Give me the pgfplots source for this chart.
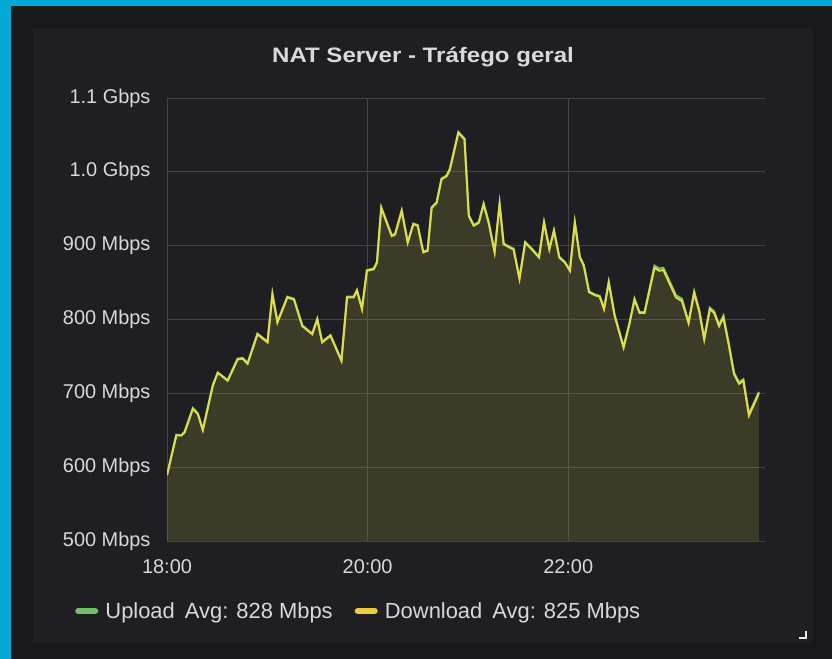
\documentclass[border=0pt]{standalone}
\usepackage{fontspec}
\setmainfont{Liberation Sans}
\newfontfamily\titlefont[FakeStretch=1.15]{Liberation Sans}
\usepackage{pgfplots}
\pgfplotsset{compat=1.18}
\definecolor{cyanbg}{RGB}{0,170,212}
\definecolor{outerbg}{RGB}{24,24,27}
\definecolor{panelbg}{RGB}{31,31,35}
\definecolor{gridgrey}{RGB}{66,66,71}
\definecolor{txtgrey}{RGB}{216,217,218}
\definecolor{dlyellow}{RGB}{226,220,70}
\definecolor{legyellow}{RGB}{234,204,64}
\definecolor{ulgreen}{RGB}{115,191,105}
\begin{document}
\begin{tikzpicture}[x=1bp,y=1bp]
\fill[cyanbg] (0,0) rectangle (832,659);
\fill[outerbg] (11,0) rectangle (832,653);
\fill[panelbg] (33,16) rectangle (813,631);
\draw[txtgrey!60, line width=1.2bp] (799,21) -- (806,21) -- (806,28);
\node[font=\titlefont\bfseries\fontsize{21}{25}\selectfont, text=txtgrey] at (423,602) {NAT Server - Tráfego geral};
\begin{axis}[
  at={(167bp,118bp)}, anchor=south west,
  width=598bp, height=443bp, scale only axis,
  xmin=18, xmax=23.962, ymin=500, ymax=1100,
  axis line style={draw=none}, tick style={draw=none},
  grid=major, major grid style={color=gridgrey, line width=0.9bp},
  xtick={18,20,22}, xticklabels={18:00,20:00,22:00},
  ytick={500,600,700,800,900,1000,1100},
  yticklabels={500 Mbps,600 Mbps,700 Mbps,800 Mbps,900 Mbps,1.0 Gbps,1.1 Gbps},
  tick label style={font=\fontsize{20}{24}\selectfont, text=txtgrey},
  xticklabel style={yshift=-15bp},
  yticklabel style={xshift=-13bp},
  legend style={at={(-0.1538,-0.158)}, anchor=west, draw=none, fill=none,
    font=\fontsize{22}{26}\selectfont, text=txtgrey, inner sep=0pt,
    nodes={inner sep=3bp},
    /tikz/every even column/.append style={column sep=19bp}},
  legend columns=2,
  legend image code/.code={\draw[#1, line width=6bp, line cap=round] (3bp,0bp) -- (20bp,0bp); \path (27bp,0bp);},
]
\addplot[fill=dlyellow, fill opacity=0.15, draw=none, forget plot] coordinates {
(18.000,589) (18.093,643) (18.142,643) (18.175,647) (18.258,679) (18.307,672)
(18.357,650) (18.456,710) (18.506,728) (18.605,717) (18.704,746) (18.754,747)
(18.803,740) (18.902,780) (19.002,769) (19.051,834) (19.101,796) (19.200,830)
(19.266,827) (19.349,791) (19.448,780) (19.498,800) (19.547,769) (19.630,778)
(19.739,744) (19.795,830) (19.861,830) (19.894,839) (19.944,814) (19.993,866)
(20.060,868) (20.093,877) (20.136,951) (20.241,913) (20.274,915) (20.340,947)
(20.400,904) (20.456,929) (20.499,927) (20.555,891) (20.598,893) (20.638,951)
(20.688,958) (20.737,990) (20.787,994) (20.820,1003) (20.905,1053) (20.966,1044)
(21.009,940) (21.058,927) (21.108,931) (21.157,956) (21.207,931) (21.266,891)
(21.316,956) (21.356,902) (21.422,897) (21.455,895) (21.514,855) (21.571,904)
(21.637,895) (21.709,884) (21.759,931) (21.812,895) (21.858,920) (21.911,884)
(21.967,877) (22.017,866) (22.066,931) (22.116,884) (22.155,873) (22.208,837)
(22.264,833) (22.314,831) (22.357,814) (22.404,850) (22.463,805) (22.552,762)
(22.612,795) (22.661,827) (22.711,809) (22.761,809) (22.860,870) (22.909,866)
(22.949,867) (23.074,830) (23.134,825) (23.200,795) (23.256,836) (23.306,811)
(23.356,773) (23.412,814) (23.455,809) (23.504,791) (23.547,803) (23.603,764)
(23.653,726) (23.703,713) (23.746,717) (23.802,670) (23.901,700)
} \closedcycle;
\addplot[color=ulgreen, line width=2bp, forget plot] coordinates {
(18.000,590) (18.093,644) (18.142,643) (18.175,648) (18.258,680) (18.307,673)
(18.357,651) (18.456,711) (18.506,728) (18.605,718) (18.704,747) (18.754,748)
(18.803,741) (18.902,781) (19.002,770) (19.051,835) (19.101,797) (19.200,831)
(19.266,828) (19.349,792) (19.448,781) (19.498,801) (19.547,770) (19.630,779)
(19.739,745) (19.795,831) (19.861,831) (19.894,840) (19.944,815) (19.993,867)
(20.060,869) (20.093,878) (20.136,952) (20.241,914) (20.274,916) (20.340,948)
(20.400,905) (20.456,930) (20.499,928) (20.555,892) (20.598,894) (20.638,952)
(20.688,959) (20.737,991) (20.787,995) (20.820,1004) (20.905,1054) (20.966,1045)
(21.009,941) (21.058,928) (21.108,932) (21.157,957) (21.207,932) (21.266,892)
(21.316,957) (21.356,903) (21.422,898) (21.455,896) (21.514,856) (21.571,905)
(21.637,896) (21.709,885) (21.759,932) (21.812,896) (21.858,921) (21.911,885)
(21.967,878) (22.017,867) (22.066,932) (22.116,885) (22.155,874) (22.208,838)
(22.264,834) (22.314,832) (22.357,815) (22.404,851) (22.463,806) (22.552,763)
(22.612,796) (22.661,828) (22.711,810) (22.761,810) (22.860,873) (22.909,869)
(22.949,870) (23.074,833) (23.134,828) (23.200,797) (23.256,838) (23.306,813)
(23.356,775) (23.412,816) (23.455,811) (23.504,793) (23.547,805) (23.603,766)
(23.653,728) (23.703,715) (23.746,719) (23.802,672) (23.901,702)
};
\addplot[color=dlyellow, line width=2bp, forget plot] coordinates {
(18.000,589) (18.093,643) (18.142,643) (18.175,647) (18.258,679) (18.307,672)
(18.357,650) (18.456,710) (18.506,728) (18.605,717) (18.704,746) (18.754,747)
(18.803,740) (18.902,780) (19.002,769) (19.051,834) (19.101,796) (19.200,830)
(19.266,827) (19.349,791) (19.448,780) (19.498,800) (19.547,769) (19.630,778)
(19.739,744) (19.795,830) (19.861,830) (19.894,839) (19.944,814) (19.993,866)
(20.060,868) (20.093,877) (20.136,951) (20.241,913) (20.274,915) (20.340,947)
(20.400,904) (20.456,929) (20.499,927) (20.555,891) (20.598,893) (20.638,951)
(20.688,958) (20.737,990) (20.787,994) (20.820,1003) (20.905,1053) (20.966,1044)
(21.009,940) (21.058,927) (21.108,931) (21.157,956) (21.207,931) (21.266,891)
(21.316,956) (21.356,902) (21.422,897) (21.455,895) (21.514,855) (21.571,904)
(21.637,895) (21.709,884) (21.759,931) (21.812,895) (21.858,920) (21.911,884)
(21.967,877) (22.017,866) (22.066,931) (22.116,884) (22.155,873) (22.208,837)
(22.264,833) (22.314,831) (22.357,814) (22.404,850) (22.463,805) (22.552,762)
(22.612,795) (22.661,827) (22.711,809) (22.761,809) (22.860,870) (22.909,866)
(22.949,867) (23.074,830) (23.134,825) (23.200,795) (23.256,836) (23.306,811)
(23.356,773) (23.412,814) (23.455,809) (23.504,791) (23.547,803) (23.603,764)
(23.653,726) (23.703,713) (23.746,717) (23.802,670) (23.901,700)
};
\addlegendimage{color=ulgreen}
\addlegendentry{Upload\hspace{10bp}Avg: 828 Mbps}
\addlegendimage{color=legyellow}
\addlegendentry{Download\hspace{10bp}Avg: 825 Mbps}
\end{axis}
\end{tikzpicture}
\end{document}
